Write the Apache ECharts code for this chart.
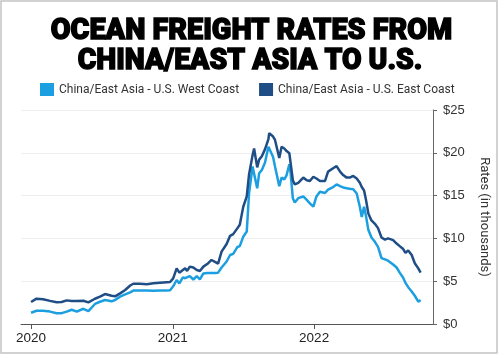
<!DOCTYPE html>
<html><head><meta charset="utf-8">
<script src="https://cdn.jsdelivr.net/npm/echarts@6/dist/echarts.min.js"></script>
<style>html,body{margin:0;padding:0;background:#fff}#c{width:504px;height:358px}</style>
</head><body><div id="c"></div>
<script>
const titleLines = ['OCEAN FREIGHT RATES FROM', 'CHINA/EAST ASIA TO U.S.'];
const seriesNames = ['China/East Asia - U.S. West Coast', 'China/East Asia - U.S. East Coast'];
const dates = [
'2020-01-01','2020-01-15','2020-02-01','2020-02-19','2020-03-07','2020-03-20','2020-04-02','2020-04-15','2020-04-28','2020-05-15',
'2020-05-28','2020-06-14','2020-06-27','2020-07-10','2020-07-27','2020-08-05','2020-08-18','2020-08-31','2020-09-13','2020-09-21',
'2020-10-08','2020-10-26','2020-11-12','2020-11-29','2020-12-16','2020-12-25','2021-01-02','2021-01-11','2021-01-18','2021-01-27',
'2021-02-02','2021-02-07','2021-02-14','2021-02-23','2021-03-04','2021-03-12','2021-03-21','2021-03-31','2021-04-11','2021-04-20',
'2021-04-28','2021-05-07','2021-05-20','2021-05-29','2021-06-06','2021-06-17','2021-06-23','2021-07-02','2021-07-11','2021-07-17',
'2021-07-26','2021-07-30','2021-08-07','2021-08-12','2021-08-19','2021-08-27','2021-09-05','2021-09-07','2021-09-17','2021-09-22',
'2021-10-03','2021-10-09','2021-10-16','2021-10-22','2021-10-29','2021-11-01','2021-11-07','2021-11-12','2021-11-21','2021-12-04',
'2021-12-13','2021-12-21','2021-12-30','2022-01-07','2022-01-16','2022-01-29','2022-02-06','2022-02-19','2022-02-28','2022-03-09',
'2022-03-17','2022-03-26','2022-04-03','2022-04-12','2022-04-21','2022-04-29','2022-05-04','2022-05-10','2022-05-15','2022-05-21',
'2022-05-29','2022-06-07','2022-06-15','2022-06-24','2022-07-03','2022-07-11','2022-07-24','2022-08-02','2022-08-10','2022-08-19',
'2022-08-25','2022-09-01','2022-09-10','2022-09-18','2022-09-27','2022-10-03'
];
const westCoast = [
1.32,1.55,1.55,1.45,1.25,1.27,1.45,1.67,1.45,1.78,
1.5,2.34,2.6,2.8,2.65,2.8,3.2,3.45,3.7,3.9,
3.9,3.9,3.88,3.9,3.9,3.95,4.4,5.14,4.75,5.45,
5.35,5.25,5.6,5.2,5.6,5.2,5.9,5.95,5.95,5.95,
6.0,6.6,7.3,8.06,8.2,9.0,9.1,10.2,10.8,15.3,
18.4,18.4,15.85,17.6,18.0,18.85,20.7,20.5,19.5,18.4,
16.1,17.1,16.9,17.4,18.65,17.8,14.7,14.2,14.7,14.9,
14.5,14.1,13.7,14.9,15.45,15.3,15.7,16.0,16.3,16.1,
15.95,15.85,15.8,15.75,15.25,13.7,12.5,13.7,12.6,11.0,
10.1,9.6,9.0,7.7,7.55,7.4,6.95,6.6,6.0,5.4,
4.8,4.3,3.8,3.3,2.6,2.8
];
const eastCoast = [
2.57,2.96,2.9,2.7,2.53,2.57,2.76,2.68,2.7,2.72,
2.53,2.95,3.19,3.5,3.3,3.23,3.58,3.97,4.5,4.7,
4.7,4.65,4.75,4.83,4.88,4.9,5.33,6.5,6.0,6.3,
6.5,6.2,6.7,6.6,6.3,6.2,6.7,7.0,7.48,7.25,
7.05,8.45,9.35,10.3,10.5,11.2,11.6,13.7,14.9,17.5,
19.7,20.5,18.3,19.2,19.6,20.4,21.6,22.3,21.9,21.5,
19.4,20.7,20.5,20.2,19.95,19.9,16.8,16.3,16.5,17.1,
16.8,16.7,17.2,17.0,16.7,16.7,17.8,18.2,18.45,17.8,
17.4,17.1,17.1,17.3,17.0,16.5,16.0,15.6,14.5,12.9,
12.1,11.7,11.2,10.1,9.85,10.0,9.8,9.4,9.1,8.76,
8.3,8.6,8.06,7.1,6.5,6.0
];
const yearTicks = ['2020-01-01','2021-01-01','2022-01-01'];
const xRange = ['2019-12-06', '2022-11-04'];
const yMin = 0, yMax = 25, yStep = 5;

const colors = ['#1c9fe0', '#1f4d85'];
const ts = d => Date.UTC(+d.slice(0, 4), +d.slice(5, 7) - 1, +d.slice(8, 10));
const yearTs = yearTicks.map(ts);

// title layout: heavy condensed look = bold font squeezed horizontally
const titleFont = {family: 'Roboto', weight: 900, size: 29};
const titleBoxes = [{cx: 251.5, capTop: 18.3, capBottom: 39.3, w: 403}, {cx: 250, capTop: 49, capBottom: 68.5, w: 346}];
const mctx = document.createElement('canvas').getContext('2d');
mctx.font = titleFont.weight + ' ' + titleFont.size + 'px ' + titleFont.family;
mctx.textBaseline = 'middle';
const hm = mctx.measureText('H');
const capMidOffset = (hm.actualBoundingBoxDescent - hm.actualBoundingBoxAscent) / 2;
const titleGraphics = titleLines.map((t, i) => {
  const natural = mctx.measureText(t).width;
  const b = titleBoxes[i];
  return {
    type: 'text', x: b.cx, y: (b.capTop + b.capBottom) / 2 - capMidOffset,
    scaleX: (b.w - 1.4) / natural, silent: true,
    style: {text: t, fontFamily: titleFont.family, fontWeight: titleFont.weight, fontSize: titleFont.size,
      fill: '#000', stroke: '#000', lineWidth: 1.4, align: 'center', verticalAlign: 'middle'}
  };
});

const chart = echarts.init(document.getElementById('c'), null, {renderer: 'canvas'});
const uiFont = 'Roboto';
chart.setOption({
  animation: false,
  backgroundColor: '#fff',
  graphic: [{
    type: 'rect', shape: {x: 1, y: 1, width: 496, height: 352},
    style: {fill: 'none', stroke: '#c4c4c4', lineWidth: 1.5}, silent: true
  }].concat(titleGraphics),
  legend: {
    left: 40, top: 83, padding: 0, itemWidth: 14, itemHeight: 13, itemGap: 20, icon: 'rect',
    textStyle: {fontFamily: uiFont, fontSize: 12, color: '#333'},
    data: seriesNames
  },
  grid: {left: 21, right: 71, top: 110, bottom: 34},
  xAxis: {
    type: 'value', min: ts(xRange[0]), max: ts(xRange[1]),
    axisLine: {lineStyle: {color: '#555', width: 1}},
    axisTick: {show: true, length: 5, lineStyle: {color: '#555'}, customValues: yearTs},
    axisLabel: {customValues: yearTs, formatter: v => String(new Date(v).getUTCFullYear()),
      fontFamily: 'Liberation Sans', fontSize: 13.5, color: '#222', margin: 7},
    splitLine: {show: false}
  },
  yAxis: {
    type: 'value', position: 'right', min: yMin, max: yMax, interval: yStep,
    axisLine: {show: true, lineStyle: {color: '#666'}},
    axisTick: {show: true, length: 4, lineStyle: {color: '#666'}},
    axisLabel: {formatter: v => '$' + v, fontFamily: 'Liberation Sans', fontSize: 13, color: '#333', margin: 10},
    splitLine: {lineStyle: {color: '#eeeeee', width: 1}},
    name: 'Rates (in thousands)', nameLocation: 'middle', nameRotate: -90, nameGap: 45,
    nameTextStyle: {fontFamily: uiFont, fontSize: 13, color: '#333'}
  },
  series: [
    {name: seriesNames[0], type: 'line', showSymbol: false, color: colors[0],
     lineStyle: {width: 2.5, color: colors[0]}, data: dates.map((d, i) => [ts(d), westCoast[i]])},
    {name: seriesNames[1], type: 'line', showSymbol: false, color: colors[1],
     lineStyle: {width: 2.5, color: colors[1]}, data: dates.map((d, i) => [ts(d), eastCoast[i]])}
  ]
});
</script></body></html>
